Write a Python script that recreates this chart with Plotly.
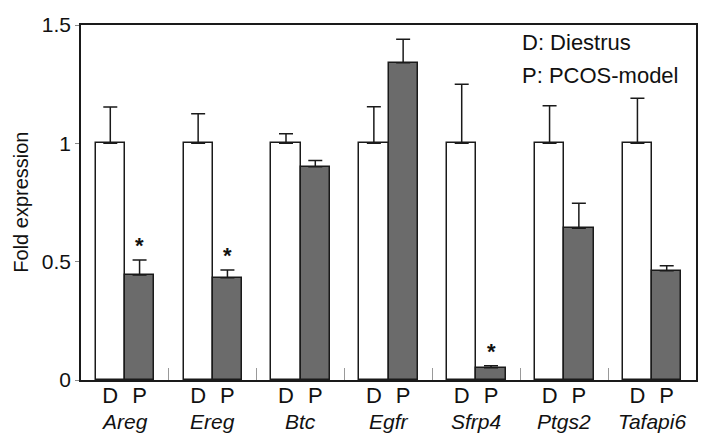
import plotly.graph_objects as go

genes = ["Areg", "Ereg", "Btc", "Egfr", "Sfrp4", "Ptgs2", "Tafapi6"]
diestrus = [1.0, 1.0, 1.0, 1.0, 1.0, 1.0, 1.0]
diestrus_err = [0.153, 0.125, 0.04, 0.155, 0.25, 0.159, 0.19]
pcos = [0.444, 0.432, 0.901, 1.34, 0.052, 0.641, 0.462]
pcos_err = [0.063, 0.033, 0.026, 0.10, 0.008, 0.106, 0.021]
significant = [True, True, False, False, True, False, False]
y_ticks = [0, 0.5, 1, 1.5]
y_ticktext = ["0", "0.5", "1", "1.5"]

FONT = "Arial, 'Liberation Sans', Helvetica, sans-serif"
DARK = "#1a1a1a"
GRAY = "#6b6b6b"

# page body has an 8px margin: plot box in page px = (81..698, 25..380)
OFF = 8
W, H = 708 - 2 * OFF, 441 - 2 * OFF
L, T = 81 - OFF, 25 - OFF
R = W - (698 - OFF)
B = H - (380 - OFF)
PH = 380 - 25
PW = 698 - 81

idx = list(range(len(genes)))
xd = [i - 1/6 for i in idx]
xp = [i + 1/6 for i in idx]

fig = go.Figure()
fig.add_trace(go.Bar(
    x=xd, y=diestrus, width=1/3, marker=dict(color="white", line=dict(color=DARK, width=1.5)),
    error_y=dict(type="data", symmetric=False, array=diestrus_err, arrayminus=[0]*7,
                 color=DARK, thickness=1.5, width=7),
    showlegend=False))
fig.add_trace(go.Bar(
    x=xp, y=pcos, width=1/3, marker=dict(color=GRAY, line=dict(color=DARK, width=1.5)),
    error_y=dict(type="data", symmetric=False, array=pcos_err, arrayminus=[0]*7,
                 color=DARK, thickness=1.5, width=7),
    showlegend=False))

annotations = []
for i, g in enumerate(genes):
    annotations.append(dict(x=i, y=0, xref="x", yref="paper", text=f"<i>{g}</i>",
                            showarrow=False, yanchor="middle", yshift=-41,
                            font=dict(size=21, color="#111", family=FONT)))
    if significant[i]:
        annotations.append(dict(x=xp[i], y=pcos[i] + pcos_err[i], xref="x", yref="y",
                                text="<b>*</b>", showarrow=False, yanchor="bottom", yshift=0,
                                font=dict(size=22, color="#111", family=FONT)))

for txt, ypix in [("D: Diestrus", 42), ("P: PCOS-model", 75)]:
    annotations.append(dict(x=(521 - 81) / PW, y=(380 - ypix) / PH, xref="paper", yref="paper",
                            text=txt, showarrow=False, xanchor="left", yanchor="middle",
                            font=dict(size=22, color="#111", family=FONT)))
annotations.append(dict(x=(20 - 81) / PW, y=0.5, xref="paper", yref="paper",
                        text="Fold expression", textangle=-90, showarrow=False,
                        xanchor="center", yanchor="middle",
                        font=dict(size=20, color="#111", family=FONT)))

fig.update_layout(
    width=W, height=H,
    margin=dict(l=L, r=R, t=T, b=B),
    paper_bgcolor="white", plot_bgcolor="white",
    font=dict(family=FONT, color="#111", size=20),
    bargap=0,
    annotations=annotations,
    xaxis=dict(range=[-0.5, 6.5], tickvals=xd + xp, ticktext=["D"]*7 + ["P"]*7,
               ticks="", showgrid=False, zeroline=False, showline=True, mirror=True,
               linecolor=DARK, linewidth=1.5, tickfont=dict(size=22), ticklabelstandoff=-5,
               minor=dict(tickvals=[i + 0.5 for i in range(6)], ticks="inside",
                          ticklen=12, tickcolor="#999", tickwidth=1, showgrid=False)),
    yaxis=dict(range=[0, 1.5], tickvals=y_ticks, ticktext=y_ticktext, ticks="outside",
               ticklen=4, tickcolor="#888", showgrid=False, zeroline=False,
               showline=True, mirror=True, linecolor=DARK, linewidth=1.5,
               tickfont=dict(size=21)),
)

fig.write_html("out.html")
